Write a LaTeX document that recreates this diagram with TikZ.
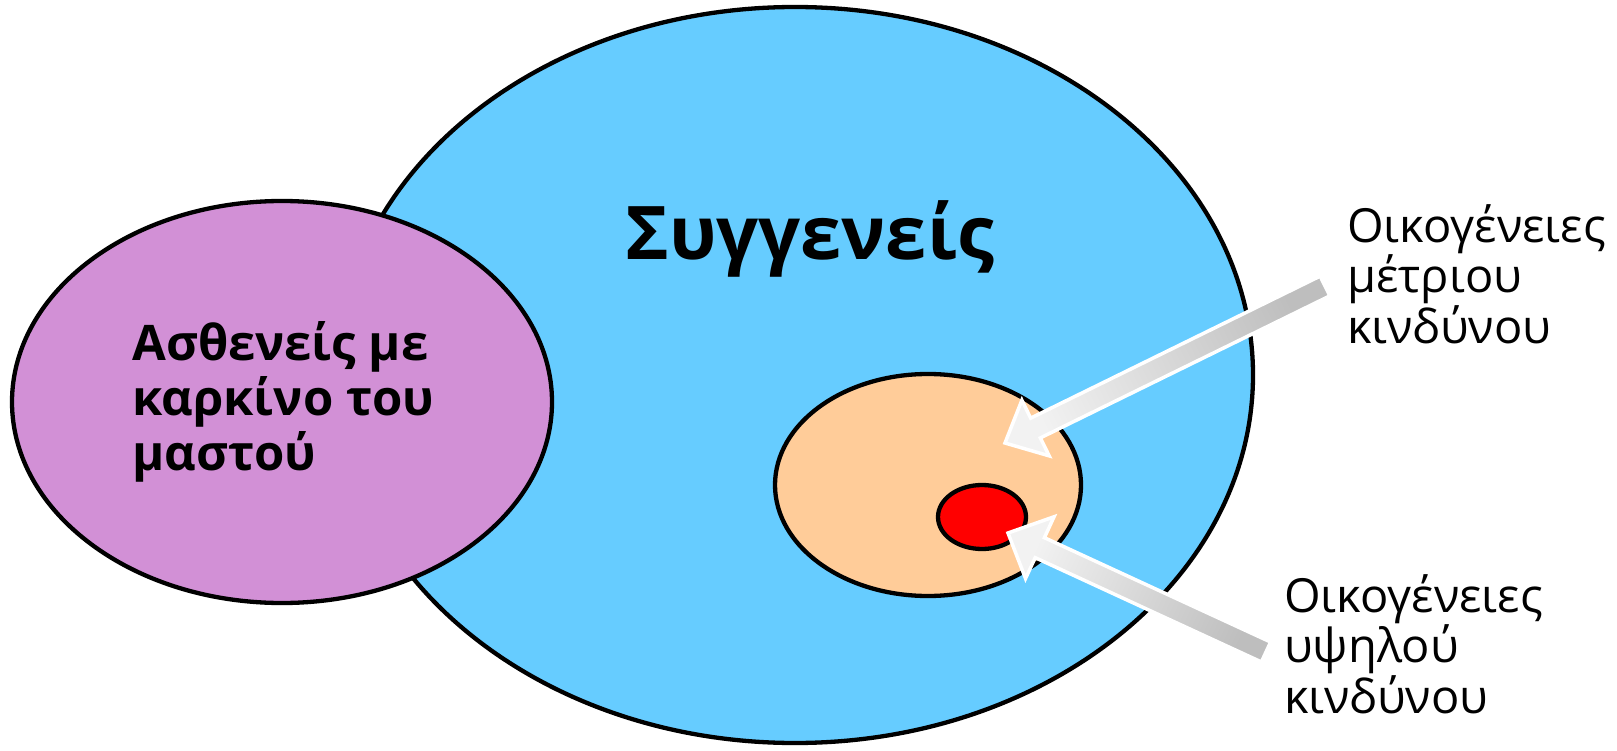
\documentclass[tikz,border=0pt]{standalone}
\usepackage{fontspec}
\setmainfont{Open Sans}
\usetikzlibrary{calc,shapes.geometric}
\definecolor{relblue}{HTML}{66CCFF}
\definecolor{patpurple}{HTML}{D290D6}
\definecolor{midpeach}{HTML}{FFCC99}
\definecolor{highred}{HTML}{FF0000}
\definecolor{arrlight}{HTML}{F2F2F2}
\definecolor{arrdark}{HTML}{BEBEBE}
\tikzset{
  blob/.style={draw=black, line width=4.3pt},
  bigtxt/.style={anchor=base west, inner sep=0pt, font=\bfseries\fontsize{74}{74}\selectfont},
  pattxt/.style={anchor=base west, inner sep=0pt, align=left, font=\bfseries\fontsize{49}{55}\selectfont},
  famtxt/.style={anchor=base west, inner sep=0pt, align=left, font=\fontsize{47}{44}\selectfont},
  blockarrow/.style={draw=white, line width=3.5pt, line join=miter}
}
\begin{document}
\begin{tikzpicture}[x=1pt,y=-1pt]
\useasboundingbox (0,0) rectangle (1617,751);
% ellipses
\node[blob, fill=relblue, ellipse, minimum width=916pt, minimum height=736pt, inner sep=0pt] (rel) at (795,375) {};
\node[blob, fill=patpurple, ellipse, minimum width=540pt, minimum height=402pt, inner sep=0pt] (pat) at (282,402) {};
\node[blob, fill=midpeach, ellipse, minimum width=306pt, minimum height=222pt, inner sep=0pt] (mid) at (928,485) {};
\node[blob, fill=highred, ellipse, minimum width=88pt, minimum height=64pt, inner sep=0pt] (high) at (982,517) {};
% texts (anchor = baseline of the last line)
\node[bigtxt] (t1) at (625,260) {Συγγενείς};
\node[pattxt] (p1) at (132,470) {Ασθενείς με\\καρκίνο του\\μαστού};
\node[famtxt] (m1) at (1347,343) {Οικογένειες\\μέτριου\\κινδύνου};
\node[famtxt] (h1) at (1284,713) {Οικογένειες\\υψηλού\\κινδύνου};
% arrow 1
\coordinate (a1t) at (1005,443);
\coordinate (a1s) at (1325,286);
\coordinate (a1b) at ($(a1t)!34pt!(a1s)$);
\shade[blockarrow, top color=arrlight, bottom color=arrdark, shading angle=116]
  (a1t) -- ($(a1b)!31pt!90:(a1s)$) -- ($(a1b)!11pt!90:(a1s)$)
  -- ($(a1s)!11pt!-90:(a1t)$) -- ($(a1s)!11pt!90:(a1t)$)
  -- ($(a1b)!11pt!-90:(a1s)$) -- ($(a1b)!31pt!-90:(a1s)$) -- cycle;
% arrow 2
\coordinate (a2t) at (1008,533);
\coordinate (a2s) at (1266,652);
\coordinate (a2b) at ($(a2t)!35pt!(a2s)$);
\shade[blockarrow, top color=arrlight, bottom color=arrdark, shading angle=65]
  (a2t) -- ($(a2b)!34pt!90:(a2s)$) -- ($(a2b)!11pt!90:(a2s)$)
  -- ($(a2s)!11pt!-90:(a2t)$) -- ($(a2s)!11pt!90:(a2t)$)
  -- ($(a2b)!11pt!-90:(a2s)$) -- ($(a2b)!34pt!-90:(a2s)$) -- cycle;
\end{tikzpicture}
\end{document}
